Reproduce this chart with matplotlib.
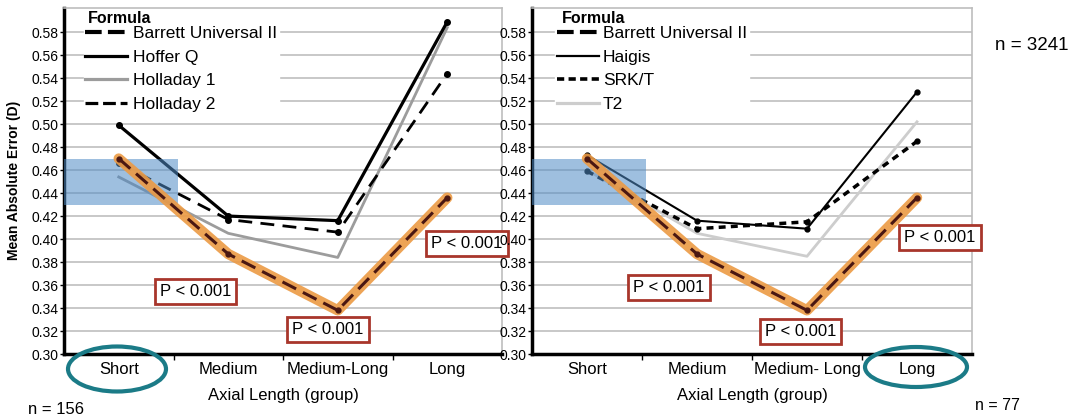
import numpy as np
import matplotlib
matplotlib.use("Agg")
import matplotlib.pyplot as plt
from matplotlib.lines import Line2D
from matplotlib.patches import Rectangle, Ellipse

plt.rcParams["font.family"] = ["Liberation Sans", "DejaVu Sans"]

# === DATA ===
groups_left = ["Short", "Medium", "Medium-Long", "Long"]
groups_right = ["Short", "Medium", "Medium- Long", "Long"]

barrett = [0.470, 0.387, 0.338, 0.436]
hoffer_q = [0.499, 0.420, 0.416, 0.589]
holladay_1 = [0.454, 0.405, 0.384, 0.584]
holladay_2 = [0.466, 0.417, 0.406, 0.544]

haigis = [0.473, 0.416, 0.409, 0.528]
srk_t = [0.459, 0.409, 0.415, 0.485]
t2 = [0.460, 0.405, 0.385, 0.502]

# P-value labels: (x position, y position) per panel
p_text = "P < 0.001"
p_pos_left = [(0.70, 0.354), (1.91, 0.321), (3.18, 0.3965)]
p_pos_right = [(0.745, 0.3575), (1.94, 0.320), (3.21, 0.401)]

yticks = np.arange(0.30, 0.5801, 0.02)

W, H = 1084, 419
fig = plt.figure(figsize=(W / 100, H / 100), dpi=100)


def px_axes(x0, x1, y0, y1):
    return fig.add_axes([x0 / W, 1 - y1 / H, (x1 - x0) / W, (y1 - y0) / H])


ax_l = px_axes(64, 502, 8, 354)
ax_r = px_axes(532, 972, 8, 354)

x = np.arange(4)


def style_axes(ax, labels):
    ax.set_xlim(-0.5, 3.5)
    ax.set_ylim(0.30, 0.601)
    ax.set_yticks(yticks)
    ax.set_yticklabels([f"{v:.2f}" for v in yticks], fontsize=10)
    ax.set_xticks(x)
    ax.set_xticklabels(labels, fontsize=12)
    ax.set_xticks([0.5, 1.5, 2.5], minor=True)
    ax.tick_params(axis="x", which="major", length=0, pad=6)
    ax.tick_params(axis="x", which="minor", length=4, width=1)
    ax.tick_params(axis="y", length=3, width=1, pad=1)
    ax.grid(axis="y", color="#c4c4c4", lw=1.3, zorder=0)
    ax.set_axisbelow(True)
    for s in ("left", "bottom"):
        ax.spines[s].set_linewidth(2.5)
        ax.spines[s].set_color("black")
    for s in ("top", "right"):
        ax.spines[s].set_linewidth(1.2)
        ax.spines[s].set_color("#bdbdbd")
    ax.set_xlabel("Axial Length (group)", fontsize=12, labelpad=8)
    ax.add_patch(Rectangle((-0.5, 0.43), 1.04, 0.04, facecolor="#4f8bc6",
                           alpha=0.55, lw=0, zorder=3))


def draw_barrett(ax):
    ax.plot(x, barrett, color="#ec9a44", lw=7.5, solid_capstyle="round",
            alpha=0.9, zorder=4)
    ax.plot(x, barrett, color="#4a1712", lw=2.2, dashes=(5, 2.5),
            marker="o", ms=3.5, zorder=5)


def p_boxes(ax, positions):
    for px, py in positions:
        ax.text(px, py, p_text, fontsize=12, ha="center", va="center",
                zorder=8, clip_on=False,
                bbox=dict(boxstyle="square,pad=0.3", fc="white",
                          ec="#a8362b", lw=2))


def formula_legend(ax, handles, labels, x_handle, x_title, textpad):
    leg = ax.legend(handles, labels, loc="upper left",
                    bbox_to_anchor=(x_handle, 0.953), fontsize=12.5,
                    handlelength=2.4, handletextpad=textpad,
                    labelspacing=0.48, borderpad=0.1, borderaxespad=0,
                    frameon=True, fancybox=False, edgecolor="white",
                    framealpha=1)
    leg.set_zorder(7)
    ax.text(x_title, 0.971, "Formula", transform=ax.transAxes, fontsize=11.5,
            fontweight="bold", ha="left", va="center", zorder=8)


# left panel: Barrett, Hoffer Q, Holladay 1, Holladay 2
style_axes(ax_l, groups_left)
ax_l.plot(x, holladay_1, color="#9c9c9c", lw=2, zorder=2)
ax_l.plot(x, hoffer_q, color="black", lw=2.3, marker="o", ms=4, zorder=2)
ax_l.plot(x, holladay_2, color="black", lw=2, dashes=(5, 3), marker="o",
          ms=4, zorder=2)
draw_barrett(ax_l)
p_boxes(ax_l, p_pos_left)

# right panel: Barrett, Haigis, SRK/T, T2
style_axes(ax_r, groups_right)
ax_r.plot(x, t2, color="#cdcdcd", lw=2, zorder=2)
ax_r.plot(x, haigis, color="black", lw=1.5, marker="o", ms=3.5, zorder=2)
ax_r.plot(x, srk_t, color="black", lw=2.5, dashes=(2, 1.5), marker="o",
          ms=3.5, zorder=2)
draw_barrett(ax_r)
p_boxes(ax_r, p_pos_right)

# legends
formula_legend(
    ax_l,
    [Line2D([], [], color="black", lw=3, dashes=(4, 1.5)),
     Line2D([], [], color="black", lw=2.3),
     Line2D([], [], color="#9c9c9c", lw=2.3),
     Line2D([], [], color="black", lw=2.3, dashes=(4, 1.5))],
    ["Barrett Universal II", "Hoffer Q", "Holladay 1", "Holladay 2"],
    0.045, 0.055, 0.35)

formula_legend(
    ax_r,
    [Line2D([], [], color="black", lw=3, dashes=(4, 1.5)),
     Line2D([], [], color="black", lw=1.6),
     Line2D([], [], color="black", lw=2.6, dashes=(2, 1.2)),
     Line2D([], [], color="#cdcdcd", lw=2.3)],
    ["Barrett Universal II", "Haigis", "SRK/T", "T2"],
    0.053, 0.068, 0.25)

# shared y label and sample sizes
fig.text(14 / W, 1 - 180 / H, "Mean Absolute Error (D)", rotation=90,
         fontsize=10, fontweight="bold", ha="center", va="center")
fig.text(28 / W, 1 - 409 / H, "n = 156", fontsize=12, ha="left", va="center")
fig.text(975 / W, 1 - 405 / H, "n = 77", fontsize=11.5, ha="left", va="center")
fig.text(995 / W, 1 - 45 / H, "n = 3241", fontsize=13.5, ha="left", va="center")

# highlight rings round the extreme groups
for cx, cy, ew, eh in [(117, 369, 98, 45), (916, 367, 102, 40)]:
    fig.patches.append(Ellipse((cx / W, 1 - cy / H), ew / W, eh / H,
                               transform=fig.transFigure, fill=False,
                               ec="#1b7b87", lw=3))

fig.savefig("out.png", dpi=100)
